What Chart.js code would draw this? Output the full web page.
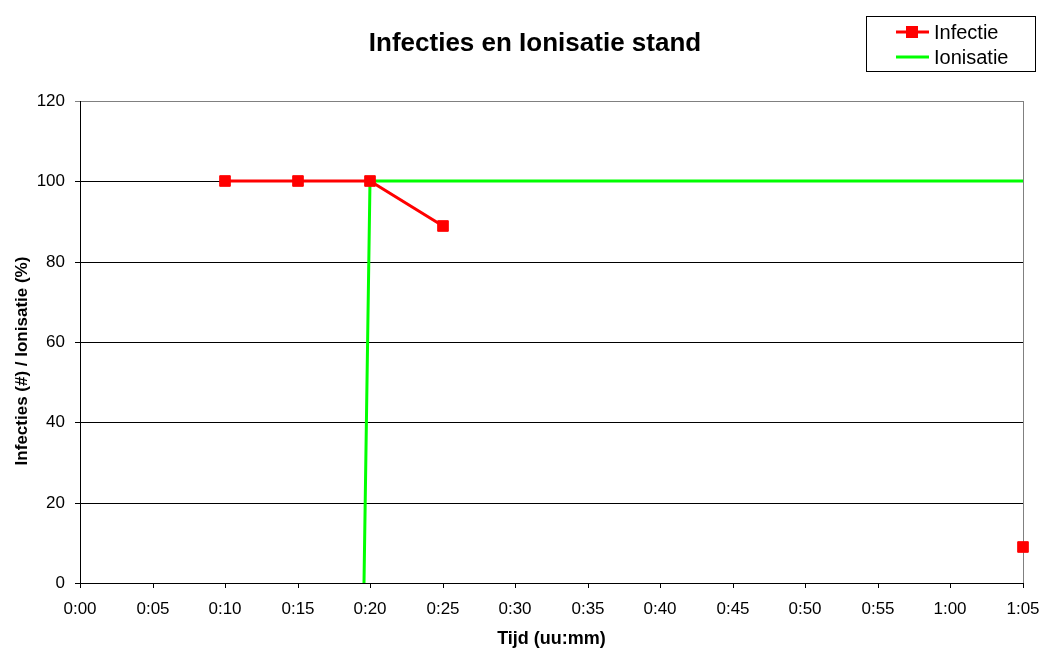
<!DOCTYPE html>
<html>
<head>
<meta charset="utf-8">
<script src="https://cdn.jsdelivr.net/npm/chart.js@4.4.0/dist/chart.umd.min.js"></script>
<style>
html,body{margin:0;padding:0;background:#fff;}
#wrap{width:1044px;height:650px;position:relative;}
</style>
</head>
<body>
<div id="wrap"><canvas id="c" width="1044" height="650"></canvas></div>
<script>
// ---- data ----
const chartTitle = "Infecties en Ionisatie stand";
const xTitle = "Tijd (uu:mm)";
const yTitle = "Infecties (#) / Ionisatie (%)";
const seriesNames = ["Infectie", "Ionisatie"];
// time in minutes
const infTimes  = [10, 15, 20, 25, 30, 35, 40, 45, 50, 55, 60, 65];
const infValues = [100, 100, 100, 89, null, null, null, null, null, null, null, 9];
const ionTimes  = [19.6, 20, 65];
const ionValues = [0, 100, 100];
const xTicks = [0, 5, 10, 15, 20, 25, 30, 35, 40, 45, 50, 55, 60, 65];
const yTicks = [0, 20, 40, 60, 80, 100, 120];

function fmtTime(m){ const h = Math.floor(m/60); const mm = Math.round(m%60); return h + ":" + (mm<10?"0":"") + mm; }

const FONT = "'Liberation Sans', Arial, sans-serif";

const overlay = {
  id: 'overlay',
  afterDraw(chart){
    const ctx = chart.ctx;
    ctx.save();
    // title
    ctx.fillStyle = '#000';
    ctx.font = "bold 26px " + FONT;
    ctx.textAlign = 'center';
    ctx.textBaseline = 'middle';
    ctx.fillText(chartTitle, 535, 44);
    // y title
    ctx.save();
    ctx.translate(22, 361);
    ctx.rotate(-Math.PI/2);
    ctx.font = "bold 17px " + FONT;
    ctx.fillText(yTitle, 0, 0);
    ctx.restore();
    // legend box
    ctx.strokeStyle = '#000';
    ctx.lineWidth = 1;
    ctx.strokeRect(866.5, 16.5, 169, 55);
    const items = [
      {name: seriesNames[0], color: '#ff0000', marker: true, y: 32},
      {name: seriesNames[1], color: '#00ff00', marker: false, y: 57}
    ];
    ctx.font = "20px " + FONT;
    ctx.textAlign = 'left';
    items.forEach(it => {
      ctx.strokeStyle = it.color;
      ctx.lineWidth = 3;
      ctx.beginPath(); ctx.moveTo(896, it.y); ctx.lineTo(929, it.y); ctx.stroke();
      if (it.marker){ ctx.fillStyle = it.color; ctx.fillRect(906, it.y-6, 12, 12); }
      ctx.fillStyle = '#000';
      ctx.fillText(it.name, 934, it.y+1);
    });
    ctx.restore();
  }
};

new Chart(document.getElementById('c'), {
  type: 'line',
  data: {
    datasets: [
      {
        label: seriesNames[0],
        data: infTimes.map((t,i)=>({x:t, y:infValues[i]})),
        borderColor: '#ff0000',
        backgroundColor: '#ff0000',
        borderWidth: 3,
        pointStyle: 'rect',
        pointRadius: 7.5,
        pointBorderWidth: 1,
        pointHoverRadius: 7.5,
        spanGaps: false,
        clip: false,
        tension: 0
      },
      {
        label: seriesNames[1],
        data: ionTimes.map((t,i)=>({x:t, y:ionValues[i]})),
        borderColor: '#00ff00',
        backgroundColor: '#00ff00',
        borderWidth: 3,
        pointRadius: 0,
        pointHoverRadius: 0,
        clip: false,
        tension: 0
      }
    ]
  },
  options: {
    responsive: false,
    animation: false,
    events: [],
    layout: { padding: { top: 101, right: 21, left: 0, bottom: 0 } },
    plugins: { legend: { display: false }, title: { display: false }, tooltip: { enabled: false } },
    scales: {
      x: {
        type: 'linear',
        min: 0, max: 65,
        alignToPixels: true,
        afterFit(s){ s.height = 67; s.paddingLeft = 0; s.paddingRight = 0; },
        afterBuildTicks(s){ s.ticks = xTicks.map(v=>({value:v})); },
        ticks: { color: '#000', font: { family: FONT, size: 17 }, padding: 11, maxRotation: 0, autoSkip: false,
                 callback: v => fmtTime(v) },
        grid: { color: c => (c.tick && c.tick.value === 65) ? '#808080' : 'rgba(0,0,0,0)', tickColor: '#000', tickLength: 5, lineWidth: 1 },
        border: { color: '#000', width: 1 },
        title: { display: true, text: xTitle, color: '#000', font: { family: FONT, size: 18, weight: 'bold' }, padding: { top: 4, bottom: 0 } }
      },
      y: {
        min: 0, max: 120,
        alignToPixels: true,
        afterFit(s){ s.width = 80; s.paddingTop = 0; s.paddingBottom = 0; },
        afterBuildTicks(s){ s.ticks = yTicks.map(v=>({value:v})); },
        ticks: { color: '#000', font: { family: FONT, size: 17 }, padding: 10 },
        grid: { color: c => (c.tick && c.tick.value === 120) ? '#808080' : '#000', lineWidth: 1, tickLength: 5 },
        border: { color: '#000', width: 1 }
      }
    }
  },
  plugins: [overlay]
});
</script>
</body>
</html>
